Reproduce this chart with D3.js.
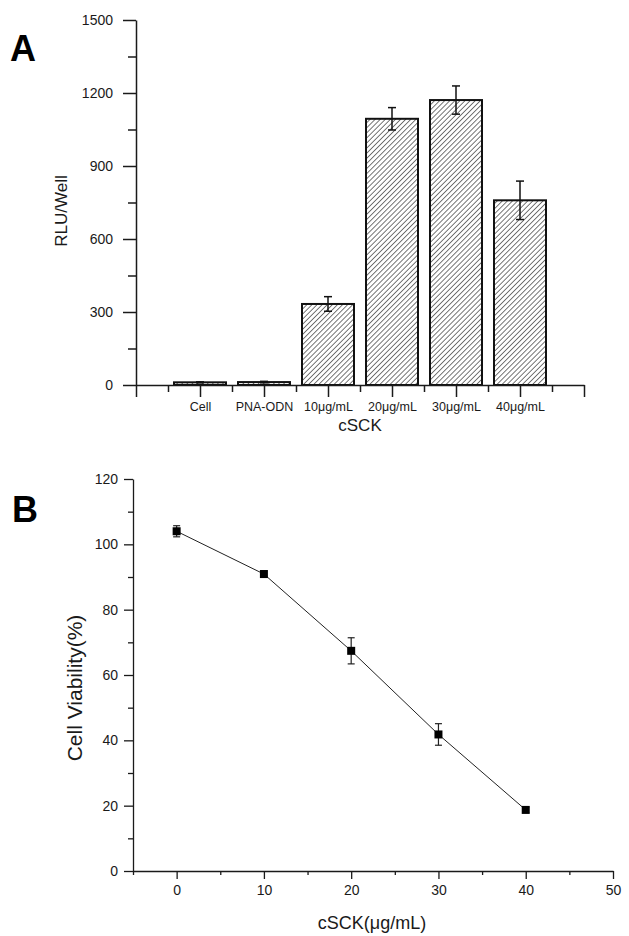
<!DOCTYPE html>
<html>
<head>
<meta charset="utf-8">
<script src="https://cdn.jsdelivr.net/npm/d3@7"></script>
<style>
  html, body { margin: 0; padding: 0; background: #fff; }
  svg { display: block; }
  text { font-family: "Liberation Sans", Arial, sans-serif; fill: #1a1a1a; }
</style>
</head>
<body>
<svg id="chart" width="629" height="936"></svg>
<script>
// ---------- Panel A data ----------
const categories = ["Cell", "PNA-ODN", "10\u03BCg/mL", "20\u03BCg/mL", "30\u03BCg/mL", "40\u03BCg/mL"];
const rluValues = [11, 12, 333, 1094, 1171, 759];
const rluErrors = [2, 3, 30, 46, 58, 79];
const rluTicks = [0, 300, 600, 900, 1200, 1500];

// ---------- Panel B data ----------
const concentrations = [0, 10, 20, 30, 40];
const viability = [104.0, 90.9, 67.4, 41.8, 18.7];
const viabilityErrors = [1.7, 1.0, 4.0, 3.3, 0.8];
const concTicks = [0, 10, 20, 30, 40, 50];
const viabTicks = [0, 20, 40, 60, 80, 100, 120];

const svg = d3.select("#chart");
const ink = "#1a1a1a";
const fmt = d3.format("d");

// hatch pattern
const defs = svg.append("defs");
const pat = defs.append("pattern")
  .attr("id", "hatch")
  .attr("patternUnits", "userSpaceOnUse")
  .attr("width", 3.6).attr("height", 3.6)
  .attr("patternTransform", "rotate(45)");
pat.append("rect").attr("width", 3.6).attr("height", 3.6).attr("fill", "#fff");
pat.append("line").attr("x1", 0).attr("y1", 0).attr("x2", 0).attr("y2", 3.6)
  .attr("stroke", "#555").attr("stroke-width", 1.6);

function styleAxis(g, width) {
  g.selectAll(".domain").attr("stroke", ink).attr("stroke-width", width);
  g.selectAll(".tick line").attr("stroke", ink).attr("stroke-width", width);
}
function styleText(g, size) {
  g.selectAll("text").attr("font-size", size).attr("fill", ink)
    .attr("font-family", "Liberation Sans, Arial, sans-serif");
}

// ================= Panel A =================
const xA = d3.scaleLinear().domain([0, 7]).range([136, 584]);
const yA = d3.scaleLinear().domain([0, 1500]).range([385, 20]);
const barW = 52;

const gAyMinor = svg.append("g").attr("transform", `translate(${xA(0)},0)`)
  .call(d3.axisLeft(yA).tickValues(d3.range(150, 1500, 300)).tickSize(8).tickFormat(""));
gAyMinor.select(".domain").remove();
styleAxis(gAyMinor, 1.5);

const gAy = svg.append("g").attr("transform", `translate(${xA(0)},0)`)
  .call(d3.axisLeft(yA).tickValues(rluTicks).tickFormat(fmt).tickSize(13).tickPadding(10).tickSizeOuter(0));
styleAxis(gAy, 1.5);
styleText(gAy, 14);

// bars
svg.append("g").selectAll("rect").data(rluValues).enter().append("rect")
  .attr("x", (d, i) => xA(i + 1) - barW / 2)
  .attr("y", d => yA(d))
  .attr("width", barW)
  .attr("height", d => yA(0) - yA(d))
  .attr("fill", "url(#hatch)")
  .attr("stroke", "#111").attr("stroke-width", 2);

// error bars A
const gErrA = svg.append("g").attr("stroke", "#111").attr("stroke-width", 1.5);
rluValues.forEach((v, i) => {
  const e = rluErrors[i];
  const cx = xA(i + 1);
  gErrA.append("line").attr("x1", cx).attr("x2", cx).attr("y1", yA(v + e)).attr("y2", yA(v - e));
  gErrA.append("line").attr("x1", cx - 4).attr("x2", cx + 4).attr("y1", yA(v + e)).attr("y2", yA(v + e));
  gErrA.append("line").attr("x1", cx - 4).attr("x2", cx + 4).attr("y1", yA(v - e)).attr("y2", yA(v - e));
});

// x axis A
const gAxMinor = svg.append("g").attr("transform", `translate(0,${yA(0)})`)
  .call(d3.axisBottom(xA).tickValues(d3.range(0.5, 7, 1)).tickSize(7).tickFormat(""));
gAxMinor.select(".domain").remove();
styleAxis(gAxMinor, 1.5);

const gAx = svg.append("g").attr("transform", `translate(0,${yA(0)})`)
  .call(d3.axisBottom(xA).tickValues(d3.range(0, 8, 1)).tickSize(12).tickPadding(5).tickSizeOuter(0)
    .tickFormat(d => (d >= 1 && d <= 6) ? categories[d - 1] : ""));
styleAxis(gAx, 1.5);
styleText(gAx, 12.5);

svg.append("text").attr("x", 360).attr("y", 431).attr("text-anchor", "middle")
  .attr("font-size", 17).text("cSCK");
svg.append("text").attr("transform", "translate(67,211) rotate(-90)").attr("text-anchor", "middle")
  .attr("font-size", 17).text("RLU/Well");
svg.append("text").attr("x", 10).attr("y", 61).attr("font-size", 36).attr("font-weight", "bold")
  .style("fill", "#000").text("A");

// ================= Panel B =================
const xB = d3.scaleLinear().domain([-5, 50]).range([133, 613]);
const yB = d3.scaleLinear().domain([0, 120]).range([871, 479]);

const gByMinor = svg.append("g").attr("transform", `translate(${xB(-5)},0)`)
  .call(d3.axisLeft(yB).tickValues(d3.range(10, 120, 20)).tickSize(5).tickFormat(""));
gByMinor.select(".domain").remove();
styleAxis(gByMinor, 1.3);

const gBy = svg.append("g").attr("transform", `translate(${xB(-5)},0)`)
  .call(d3.axisLeft(yB).tickValues(viabTicks).tickFormat(fmt).tickSize(9).tickPadding(6).tickSizeOuter(0));
styleAxis(gBy, 1.3);
styleText(gBy, 14);

const gBxMinor = svg.append("g").attr("transform", `translate(0,${yB(0)})`)
  .call(d3.axisBottom(xB).tickValues(d3.range(-5, 50, 10)).tickSize(4).tickFormat(""));
gBxMinor.select(".domain").remove();
styleAxis(gBxMinor, 1.3);

const gBx = svg.append("g").attr("transform", `translate(0,${yB(0)})`)
  .call(d3.axisBottom(xB).tickValues(concTicks).tickFormat(fmt).tickSize(8).tickPadding(6).tickSizeOuter(0));
styleAxis(gBx, 1.3);
styleText(gBx, 14);

// line
const line = d3.line().x((d, i) => xB(concentrations[i])).y(d => yB(d));
svg.append("path").datum(viability).attr("d", line)
  .attr("fill", "none").attr("stroke", "#222").attr("stroke-width", 1);

// error bars B
const gErrB = svg.append("g").attr("stroke", "#222").attr("stroke-width", 1.2);
viability.forEach((v, i) => {
  const e = viabilityErrors[i];
  const cx = xB(concentrations[i]);
  gErrB.append("line").attr("x1", cx).attr("x2", cx).attr("y1", yB(v + e)).attr("y2", yB(v - e));
  gErrB.append("line").attr("x1", cx - 3.5).attr("x2", cx + 3.5).attr("y1", yB(v + e)).attr("y2", yB(v + e));
  gErrB.append("line").attr("x1", cx - 3.5).attr("x2", cx + 3.5).attr("y1", yB(v - e)).attr("y2", yB(v - e));
});

// markers
svg.append("g").selectAll("rect").data(viability).enter().append("rect")
  .attr("x", (d, i) => xB(concentrations[i]) - 4)
  .attr("y", d => yB(d) - 4)
  .attr("width", 8).attr("height", 8)
  .attr("fill", "#000");

svg.append("text").attr("x", 372).attr("y", 929).attr("text-anchor", "middle")
  .attr("font-size", 18).text("cSCK(\u03BCg/mL)");
svg.append("text").attr("transform", "translate(82,688) rotate(-90)").attr("text-anchor", "middle")
  .attr("font-size", 21).text("Cell Viability(%)");
svg.append("text").attr("x", 12).attr("y", 522).attr("font-size", 36).attr("font-weight", "bold")
  .style("fill", "#000").text("B");
</script>
</body>
</html>
